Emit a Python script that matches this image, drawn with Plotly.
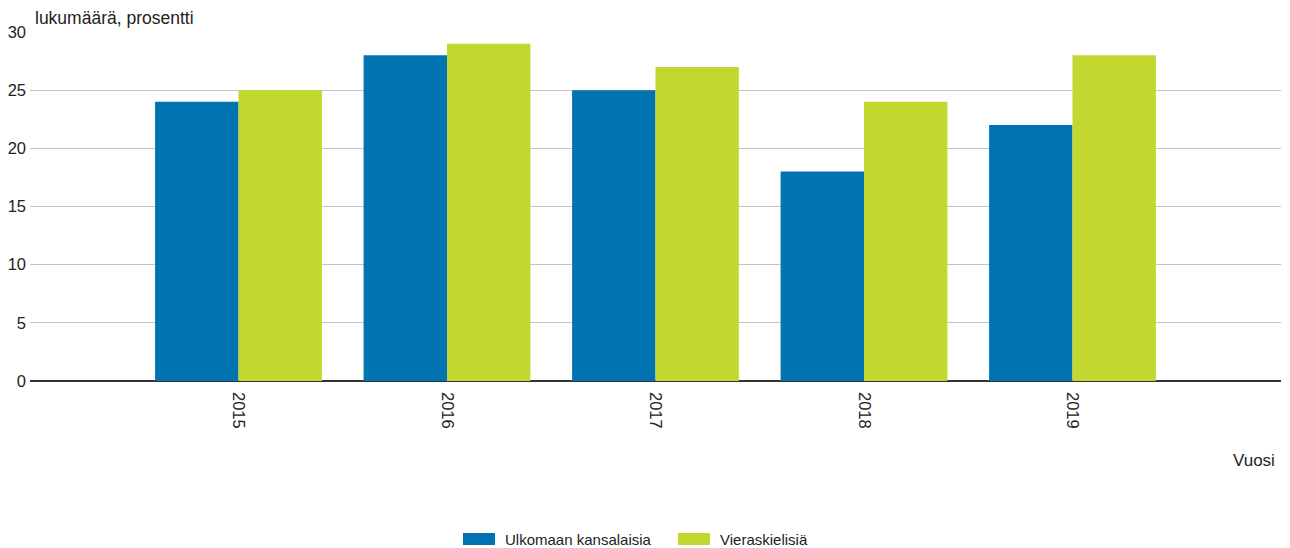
import plotly.graph_objects as go

years = ["2015", "2016", "2017", "2018", "2019"]
ulkomaan = [24, 28, 25, 18, 22]
vieraskieli = [25, 29, 27, 24, 28]
series_names = ["Ulkomaan kansalaisia", "Vieraskielisiä"]
colors = ["#0073B0", "#C2D82F"]
y_ticks = [0, 5, 10, 15, 20, 25, 30]

FONT = "Liberation Sans, Arial, sans-serif"
TXT = "#222"

# the page body has an 8px margin, so the figure is drawn 8px right/down
OFF = 8
W, H = 1290 - OFF, 548 - OFF
# target plot area in window pixels: x 30..1281, y 32..381
ML, MT = 30 - OFF, 32 - OFF
MR = W - (1281 - OFF)
MB = H - (381 - OFF)
PW, PH = W - ML - MR, H - MT - MB


def px_x(px):
    return (px - OFF - ML) / PW


def px_y(py):
    return (H - MB - (py - OFF)) / PH


fig = go.Figure()
for vals, name, col in zip([ulkomaan, vieraskieli], series_names, colors):
    fig.add_trace(go.Bar(x=years, y=vals, name=name, showlegend=False,
                         marker=dict(color=col, line=dict(width=0))))

# manual legend (wide rectangular swatches like the reference)
legend_x = [463, 678]
shapes, annotations = [], []
for lx, name, col in zip(legend_x, series_names, colors):
    shapes.append(dict(type="rect", xref="paper", yref="paper",
                       x0=px_x(lx), x1=px_x(lx + 32), y0=px_y(545), y1=px_y(533),
                       fillcolor=col, line=dict(width=0)))
    annotations.append(dict(text=name, xref="paper", yref="paper",
                            x=px_x(lx + 40), y=px_y(539), xanchor="left", yanchor="middle",
                            showarrow=False, font=dict(size=15, color=TXT)))

annotations += [
    dict(text="lukumäärä, prosentti", xref="paper", yref="paper", x=px_x(33), y=px_y(18),
         xanchor="left", yanchor="middle", showarrow=False,
         font=dict(size=17.5, color=TXT)),
    dict(text="Vuosi", xref="paper", yref="paper", x=px_x(1277), y=px_y(460),
         xanchor="right", yanchor="middle", showarrow=False,
         font=dict(size=17, color=TXT)),
]

fig.update_layout(
    width=W, height=H,
    margin=dict(l=ML, r=MR, t=MT, b=MB, autoexpand=False),
    paper_bgcolor="white", plot_bgcolor="white",
    font=dict(family=FONT, size=16, color=TXT),
    barmode="group", bargap=0.2, bargroupgap=0,
    showlegend=False,
    xaxis=dict(type="category", range=[-1, 5], tickangle=90, automargin=False,
               showgrid=False, showline=False, ticks="", ticklabelstandoff=10,
               tickfont=dict(size=16.5, color=TXT), zeroline=False),
    yaxis=dict(range=[0, 30], tickvals=y_ticks, showgrid=True, gridcolor="#c4c4c4",
               gridwidth=1, zeroline=True, zerolinecolor="#333", zerolinewidth=2,
               showline=False, ticks="", ticklabelstandoff=3, automargin=False,
               tickfont=dict(size=16.5, color=TXT)),
    shapes=shapes,
    annotations=annotations,
)

fig.write_html("out.html")
